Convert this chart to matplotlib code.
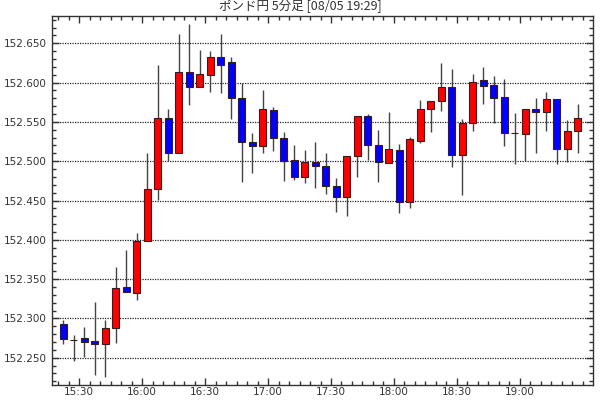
import matplotlib
matplotlib.use("Agg")
import matplotlib.pyplot as plt
from matplotlib.ticker import MultipleLocator, FixedLocator
import numpy as np

TITLE = "ポンド円 5分足 [08/05 19:29]"
START = "15:20"   # first 5-min bar
BAR_MIN = 5

opens = [152.293, 152.2725, 152.275, 152.271, 152.268, 152.288, 152.340, 152.332, 152.399, 152.464,
         152.555, 152.511, 152.613, 152.594, 152.610, 152.632, 152.626, 152.580, 152.524, 152.519,
         152.565, 152.530, 152.501, 152.480, 152.499, 152.494, 152.468, 152.455, 152.506, 152.558,
         152.520, 152.498, 152.514, 152.448, 152.526, 152.567, 152.576, 152.594, 152.508, 152.548,
         152.603, 152.597, 152.582, 152.536, 152.535, 152.566, 152.563, 152.579, 152.516, 152.539]
highs = [152.298, 152.279, 152.289, 152.321, 152.298, 152.366, 152.387, 152.409, 152.511, 152.622,
         152.567, 152.662, 152.675, 152.641, 152.640, 152.662, 152.632, 152.600, 152.536, 152.590,
         152.569, 152.537, 152.521, 152.514, 152.525, 152.510, 152.479, 152.506, 152.557, 152.560,
         152.540, 152.562, 152.522, 152.531, 152.578, 152.577, 152.625, 152.617, 152.554, 152.611,
         152.620, 152.609, 152.604, 152.561, 152.566, 152.581, 152.588, 152.579, 152.553, 152.573]
lows = [152.268, 152.246, 152.251, 152.228, 152.225, 152.269, 152.333, 152.324, 152.399, 152.451,
        152.500, 152.511, 152.571, 152.594, 152.588, 152.587, 152.554, 152.473, 152.485, 152.511,
        152.513, 152.475, 152.476, 152.472, 152.466, 152.458, 152.436, 152.430, 152.480, 152.502,
        152.474, 152.498, 152.434, 152.440, 152.523, 152.537, 152.564, 152.492, 152.457, 152.538,
        152.573, 152.548, 152.519, 152.496, 152.500, 152.511, 152.539, 152.496, 152.499, 152.511]
closes = [152.274, 152.272, 152.270, 152.268, 152.288, 152.339, 152.333, 152.399, 152.464, 152.555,
          152.511, 152.613, 152.594, 152.611, 152.632, 152.623, 152.580, 152.524, 152.519, 152.566,
          152.530, 152.500, 152.480, 152.499, 152.494, 152.468, 152.455, 152.506, 152.557, 152.520,
          152.499, 152.515, 152.448, 152.528, 152.567, 152.577, 152.594, 152.508, 152.549, 152.601,
          152.596, 152.581, 152.536, 152.5355, 152.566, 152.563, 152.579, 152.515, 152.539, 152.555]

tick_labels = ["15:30", "16:00", "16:30", "17:00", "17:30", "18:00", "18:30", "19:00"]

plt.rcParams['font.family'] = ['Noto Sans CJK JP', 'DejaVu Sans']

o = np.array(opens); h = np.array(highs); l = np.array(lows); c = np.array(closes)
# x in minutes after START, bar centred in its 5-minute slot
x = BAR_MIN * np.arange(len(o)) + BAR_MIN / 2

def to_min(t):
    hh, mm = map(int, t.split(":"))
    sh, sm = map(int, START.split(":"))
    return (hh * 60 + mm) - (sh * 60 + sm)

fig = plt.figure(figsize=(6, 4), dpi=100)
ax = fig.add_axes([52 / 600, 15 / 400, 541 / 600, 369 / 400])

up = c >= o
colors = np.where(up, "#ff0000", "#0000ff")
body_h = np.maximum(np.abs(c - o), 0.0009)

ax.vlines(x, l, h, color="#444444", lw=1, zorder=2)
ax.bar(x, body_h, bottom=np.minimum(o, c), width=3.3, color=colors,
       edgecolor="#3a1a1a", linewidth=0.8, zorder=3)

ax.set_xlim(-2.9, 254.8)
ax.set_ylim(152.2153, 152.6847)

ax.xaxis.set_major_locator(FixedLocator([to_min(t) for t in tick_labels]))
ax.set_xticklabels(tick_labels)
ax.xaxis.set_minor_locator(MultipleLocator(5))
ax.yaxis.set_major_locator(MultipleLocator(0.05))
ax.yaxis.set_minor_locator(MultipleLocator(0.01))
ax.yaxis.set_major_formatter(plt.FormatStrFormatter("%.3f"))

ax.tick_params(which="both", direction="in", top=True, right=True, colors="#333333",
               labelsize=7.5, labelfontfamily="DejaVu Sans")
ax.tick_params(which="major", length=5, width=1)
ax.tick_params(which="minor", length=3, width=1)
ax.tick_params(axis="x", pad=1.5)

ax.grid(axis="y", which="major", linestyle=(0, (1, 1)), color="#222222", lw=0.9)
ax.set_axisbelow(True)
for s in ax.spines.values():
    s.set_color("#333333")
    s.set_linewidth(1)

fig.text(0.5, 1 - 6 / 400, TITLE, ha="center", va="center", fontsize=9, color="#333333")

fig.savefig("out.png", dpi=100)
